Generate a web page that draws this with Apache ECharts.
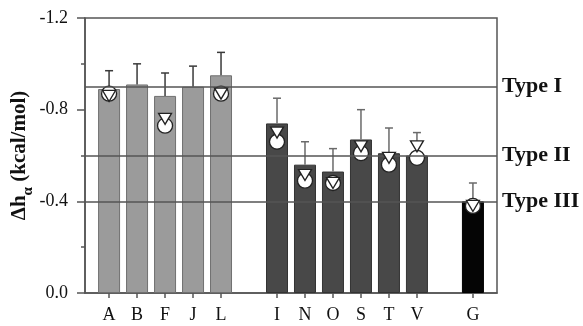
<!DOCTYPE html>
<html>
<head>
<meta charset="utf-8">
<script src="https://cdn.jsdelivr.net/npm/echarts@6/dist/echarts.min.js"></script>
<style>
  html, body { margin: 0; padding: 0; background: #fff; }
  #chart { width: 583px; height: 326px; }
</style>
</head>
<body>
<div id="chart"></div>
<script>
// Residue labels and their slot on the horizontal axis (gaps separate the groups)
const categories = ['A', 'B', 'F', 'J', 'L', 'I', 'N', 'O', 'S', 'T', 'V', 'G'];
const slots = [1, 2, 3, 4, 5, 7, 8, 9, 10, 11, 12, 14];
// Group of each residue: 1, 2 or 3
const groups = [1, 1, 1, 1, 1, 2, 2, 2, 2, 2, 2, 3];

// Measured helix propensities (kcal/mol) and their error bars
const barValues = [-0.89, -0.91, -0.86, -0.90, -0.95, -0.74, -0.56, -0.53, -0.67, -0.61, -0.60, -0.40];
const errors = [0.08, 0.09, 0.10, 0.09, 0.10, 0.11, 0.10, 0.10, 0.13, 0.11, 0.10, 0.08];

// Comparison values drawn as open markers (null = not available)
const circleValues = [-0.87, null, -0.73, null, -0.87, -0.66, -0.49, -0.48, -0.61, -0.56, -0.59, -0.38];
const triangleValues = [-0.86, null, -0.76, null, -0.87, -0.70, -0.515, -0.48, -0.64, -0.59, -0.64, -0.38];

// Reference levels for the three types
const typeLevels = [-0.9, -0.6, -0.4];
const typeNames = ['Type I', 'Type II', 'Type III'];

// Y axis range and ticks
const yMin = -1.2, yMax = 0, yInterval = 0.4;

const groupStyle = {
  1: { color: '#9b9b9b', borderColor: '#707070' },
  2: { color: '#484848', borderColor: '#333333' },
  3: { color: '#050505', borderColor: '#000000' }
};

const serif = '"Liberation Serif", "DejaVu Serif", serif';

const barData = barValues.map((v, i) => ({
  value: [slots[i], v],
  itemStyle: Object.assign({ borderWidth: 1 }, groupStyle[groups[i]])
}));
const errData = barValues.map((v, i) => [slots[i], v, v - errors[i]]);
const circleData = circleValues.map((v, i) => v == null ? null : [slots[i], v]).filter(d => d);
const triData = triangleValues.map((v, i) => v == null ? null : [slots[i], v]).filter(d => d);

const chart = echarts.init(document.getElementById('chart'), null, { renderer: 'canvas' });

chart.setOption({
  animation: false,
  backgroundColor: '#fff',
  grid: {
    left: 85, right: 86, top: 18, bottom: 33,
    outerBoundsMode: 'none',
    containLabel: false,
    show: true, borderColor: '#555', borderWidth: 1.5, backgroundColor: 'transparent'
  },
  xAxis: {
    type: 'value',
    min: 0.14,
    max: 14.86,
    splitLine: { show: false },
    axisLine: { show: true, onZero: false, lineStyle: { color: '#555', width: 1.5 } },
    axisTick: { show: true, length: 5, customValues: slots, lineStyle: { color: '#555', width: 1.5 } },
    axisLabel: {
      customValues: slots,
      margin: 13,
      color: '#111',
      fontFamily: serif,
      fontSize: 18,
      formatter: (val) => {
        const idx = slots.indexOf(Math.round(val));
        return idx >= 0 ? categories[idx] : '';
      }
    }
  },
  yAxis: {
    type: 'value',
    inverse: true,
    min: yMin,
    max: yMax,
    interval: yInterval,
    splitLine: { show: false },
    axisLine: { show: true, lineStyle: { color: '#555', width: 1.5 } },
    axisTick: { show: true, length: 8, lineStyle: { color: '#555', width: 1.5 } },
    minorTick: { show: true, splitNumber: 2, length: 4, lineStyle: { color: '#555', width: 1.5 } },
    axisLabel: {
      margin: 17,
      color: '#111',
      fontFamily: serif,
      fontSize: 18,
      formatter: (v) => (Math.abs(v) < 1e-9 ? 0 : v).toFixed(1)
    },
    name: '{b|Δh}{s|α}{b| (kcal/mol)}',
    nameLocation: 'middle',
    nameRotate: 90,
    nameGap: 52,
    nameMoveOverlap: false,
    nameTextStyle: {
      rich: {
        b: { fontFamily: serif, fontWeight: 'bold', fontSize: 21, color: '#111', lineHeight: 24, verticalAlign: 'top' },
        s: { fontFamily: serif, fontWeight: 'bold', fontSize: 15, color: '#111', lineHeight: 18, verticalAlign: 'top', padding: [12, 0, 0, 0] }
      }
    }
  },
  series: [
    {
      // reference lines for the three types
      type: 'line',
      data: [],
      z: 1,
      markLine: {
        silent: true,
        symbol: 'none',
        lineStyle: { color: '#555', width: 1.5, type: 'solid' },
        label: {
          show: true,
          position: 'end',
          distance: 5,
          color: '#111',
          fontFamily: serif,
          fontWeight: 'bold',
          fontSize: 22,
          formatter: (p) => typeNames[typeLevels.indexOf(p.value)]
        },
        data: typeLevels.map(v => ({ yAxis: v }))
      }
    },
    {
      type: 'bar',
      z: 2,
      barWidth: 22,
      data: barData
    },
    {
      // error bars from the top of each bar
      type: 'custom',
      z: 3,
      data: errData,
      renderItem: (params, api) => {
        const x = api.value(0);
        const base = api.coord([x, api.value(1)]);
        const tip = api.coord([x, api.value(2)]);
        const half = 4;
        const idx = params.dataIndex;
        const col = groups[idx] === 1 ? '#3a3a3a' : '#6a6a6a';
        const style = { stroke: col, lineWidth: 1.5, fill: null };
        return {
          type: 'group',
          children: [
            { type: 'line', shape: { x1: base[0], y1: base[1], x2: tip[0], y2: tip[1] }, style },
            { type: 'line', shape: { x1: tip[0] - half, y1: tip[1], x2: tip[0] + half, y2: tip[1] }, style }
          ]
        };
      }
    },
    {
      type: 'scatter',
      z: 4,
      symbol: 'circle',
      symbolSize: 15,
      itemStyle: { color: '#fff', borderColor: '#222', borderWidth: 1.3, opacity: 1 },
      data: circleData
    },
    {
      type: 'scatter',
      z: 5,
      symbol: 'triangle',
      symbolRotate: 180,
      symbolSize: [13, 11],
      itemStyle: { color: '#fff', borderColor: '#222', borderWidth: 1.3, opacity: 1 },
      data: triData
    }
  ]
});
</script>
</body>
</html>
